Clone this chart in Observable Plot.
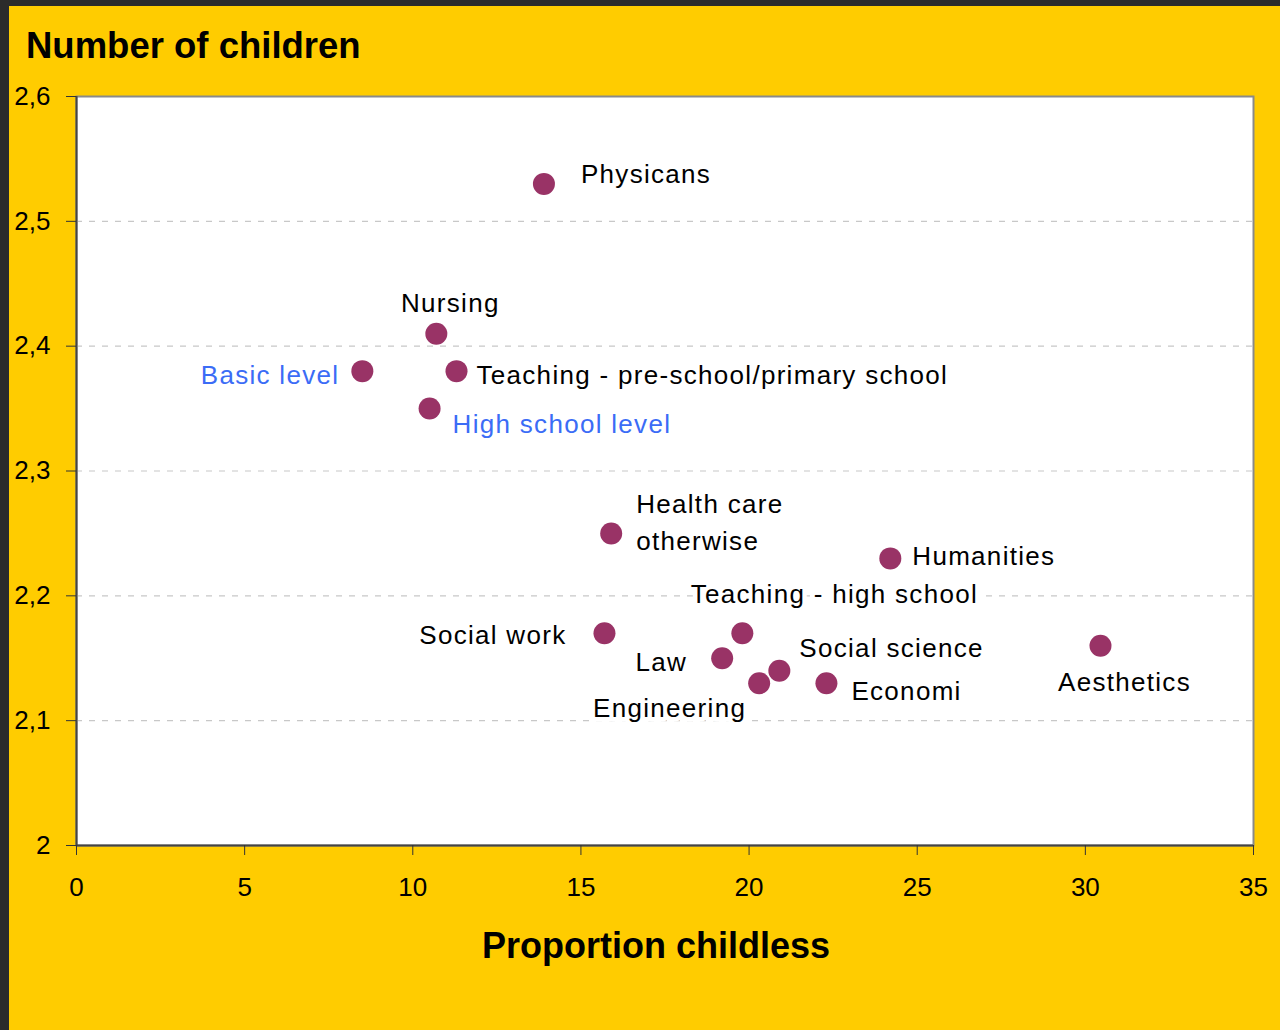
<!DOCTYPE html>
<html>
<head>
<meta charset="utf-8">
<script src="https://cdn.jsdelivr.net/npm/d3@7"></script>
<script src="https://cdn.jsdelivr.net/npm/@observablehq/plot@0.6"></script>
<style>
  html, body { margin: 0; padding: 0; width: 1280px; height: 1030px; overflow: hidden; background: #2b2b2b; }
  #panel { position: absolute; left: 9px; top: 6px; width: 1271px; height: 1024px; background: #ffcc00; }
  #title { position: absolute; left: 17px; top: 22px; font: bold 36.5px "Liberation Sans", Arial, sans-serif; line-height: 36px; color: #000; white-space: nowrap; }
  #chart { position: absolute; left: 0; top: 64px; }
  #chart g.lbl text { letter-spacing: 1.3px; }
</style>
</head>
<body>
<div id="panel">
  <div id="title">Number of children</div>
  <div id="chart"></div>
</div>
<script>
// ---- data ----
const categories = ["Physicans", "Nursing", "Basic level", "Teaching - pre-school/primary school", "High school level",
  "Health care otherwise", "Humanities", "Social work", "Teaching - high school", "Law", "Social science",
  "Engineering", "Economi", "Aesthetics"];
const proportionChildless = [13.9, 10.7, 8.5, 11.3, 10.5, 15.9, 24.2, 15.7, 19.8, 19.2, 20.9, 20.3, 22.3, 30.45];
const numberOfChildren = [2.53, 2.41, 2.38, 2.38, 2.35, 2.25, 2.23, 2.17, 2.17, 2.15, 2.14, 2.13, 2.13, 2.16];
const xTicks = [0, 5, 10, 15, 20, 25, 30, 35];
const yTicks = [2, 2.1, 2.2, 2.3, 2.4, 2.5, 2.6];
const labelText = ["Physicans", "Nursing", "Basic level", "Teaching - pre-school/primary school", "High school level",
  "Health care\notherwise", "Humanities", "Social work", "Teaching - high school", "Law", "Social science",
  "Engineering", "Economi", "Aesthetics"];

// label layout (style, not data)
const layout = {
  "Physicans": {dx: 37, dy: -13, anchor: "start"},
  "Nursing": {dx: 14, dy: -34, anchor: "middle"},
  "Basic level": {dx: -23, dy: 1, anchor: "end", fill: "#3b6cf6"},
  "Teaching - pre-school/primary school": {dx: 20, dy: 1, anchor: "start"},
  "High school level": {dx: 23, dy: 13, anchor: "start", fill: "#3b6cf6"},
  "Health care otherwise": {dx: 25, dy: -14, anchor: "start"},
  "Humanities": {dx: 22, dy: -5, anchor: "start"},
  "Social work": {dx: -38, dy: -1, anchor: "end"},
  "Teaching - high school": {dx: 92, dy: -42, anchor: "middle"},
  "Law": {dx: -35, dy: 1, anchor: "end"},
  "Social science": {dx: 20, dy: -26, anchor: "start"},
  "Engineering": {dx: -13, dy: 22, anchor: "end"},
  "Economi": {dx: 25, dy: 5, anchor: "start"},
  "Aesthetics": {dx: 24, dy: 33, anchor: "middle"}
};

const rows = categories.map((c, i) => ({name: c, label: labelText[i], x: proportionChildless[i], y: numberOfChildren[i]}));

const labelMarks = rows.map(r => {
  const L = layout[r.name];
  return Plot.text([r], {
    x: "x", y: "y", text: "label",
    dx: L.dx, dy: L.dy, textAnchor: L.anchor,
    fill: L.fill || "#000",
    stroke: "white", strokeWidth: 9, paintOrder: "stroke",
    fontSize: 26, lineHeight: 1.42,
    fontFamily: "Liberation Sans, Arial, sans-serif",
    className: "lbl"
  });
});

const fmtY = d => d === 2 ? "2" : String(d).replace(".", ",");

const chart = Plot.plot({
  width: 1271,
  height: 960,
  marginLeft: 67,
  marginRight: 27,
  marginTop: 26,
  marginBottom: 185,
  style: {background: "transparent", fontFamily: "Liberation Sans, Arial, sans-serif", fontSize: "26px", color: "#000", overflow: "visible"},
  x: {domain: [0, 35]},
  y: {domain: [2, 2.6]},
  marks: [
    Plot.frame({fill: "white", stroke: "#8a8a8a", strokeWidth: 2}),
    Plot.ruleY(yTicks.filter(d => d > 2 && d < 2.6), {stroke: "#c8c8c8", strokeWidth: 1.2, strokeDasharray: "6,7"}),
    Plot.ruleX([0], {stroke: "#444", strokeWidth: 2}),
    Plot.ruleY([2], {stroke: "#444", strokeWidth: 2}),
    Plot.axisX({ticks: xTicks, tickSize: 10, tickPadding: 22, label: null, tickFormat: d => String(d), stroke: "#333", fill: "#000"}),
    Plot.axisY({ticks: yTicks, tickSize: 10, tickPadding: 16, label: null, tickFormat: fmtY, stroke: "#333", fill: "#000"}),
    ...labelMarks,
    Plot.dot(rows, {x: "x", y: "y", r: 11, fill: "#993366", stroke: "none"}),
    Plot.text(["Proportion childless"], {frameAnchor: "bottom", dx: -9, dy: 112, lineAnchor: "bottom", text: d => d,
      fontSize: 36, fontWeight: "bold", fill: "#000"})
  ]
});
document.getElementById("chart").appendChild(chart);
</script>
</body>
</html>
